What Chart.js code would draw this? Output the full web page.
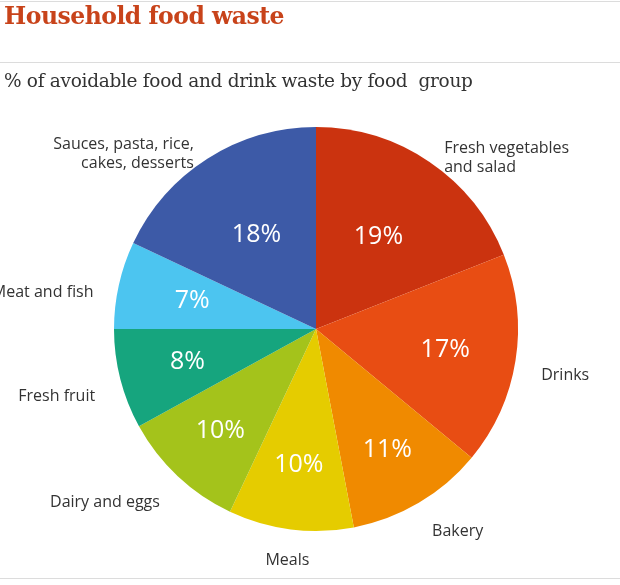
<!DOCTYPE html>
<html><head><meta charset="utf-8">
<script src="https://cdn.jsdelivr.net/npm/chart.js@4/dist/chart.umd.min.js"></script>
<style>
html,body{margin:0;padding:0;background:#fff;}
#wrap{position:relative;width:620px;height:585px;overflow:hidden;}
canvas{position:absolute;left:0;top:0;}
.rule{position:absolute;left:0;width:620px;height:1px;background:#dcdcdc;}
#title{position:absolute;left:4px;top:2px;font:bold 23.5px "DejaVu Serif",serif;color:#c8431a;letter-spacing:-0.5px;}
#sub{position:absolute;left:4px;top:70px;font:18.5px "DejaVu Serif",serif;color:#333;letter-spacing:-0.3px;}
</style></head><body>
<div id="wrap">
<canvas id="c" width="620" height="585"></canvas>
<div class="rule" style="top:1px"></div>
<div class="rule" style="top:62px"></div>
<div class="rule" style="top:578px"></div>
<div id="title">Household food waste</div>
<div id="sub">% of avoidable food and drink waste by food&nbsp; group</div>
</div>
<script>
const categories = [["Fresh vegetables","and salad"],["Drinks"],["Bakery"],["Meals"],["Dairy and eggs"],["Fresh fruit"],["Meat and fish"],["Sauces, pasta, rice,","cakes, desserts"]];
const values = [19,17,11,10,10,8,7,18];
const colors = ["#cb330f","#e84d13","#f08a00","#e5cc00","#a4c31b","#16a57e","#4cc5f0","#3d5aa7"];

const labelPlugin = {
  id:'labels',
  afterDatasetsDraw(chart){
    const ctx = chart.ctx;
    const meta = chart.getDatasetMeta(0);
    meta.data.forEach((arc,i)=>{
      const mid = (arc.startAngle+arc.endAngle)/2;
      const r = arc.outerRadius;
      const k = 0.55 + 0.12*Math.max(0,Math.sin(mid)) + 0.08*Math.abs(Math.cos(mid))*(Math.sin(mid)>-0.3?1:0);
      ctx.save();
      ctx.fillStyle="#fff";
      ctx.font='500 25px "Open Sans",sans-serif';
      ctx.textAlign='center';ctx.textBaseline='middle';
      ctx.fillText(values[i]+'%', arc.x+Math.cos(mid)*r*k, arc.y+Math.sin(mid)*r*k);
      const ro = r+26;
      const x = arc.x+Math.cos(mid)*ro, y = arc.y+Math.sin(mid)*ro*0.97+12;
      ctx.fillStyle="#333";
      ctx.font='16px "Open Sans",sans-serif';
      ctx.textAlign = x>arc.x+30?'left':(x<arc.x-30?'right':'center');
      const lines = categories[i];
      const lh=19;
      lines.forEach((t,j)=>ctx.fillText(t,x,y+(j-(lines.length-1)/2)*lh));
      ctx.restore();
    });
  }
};

new Chart(document.getElementById('c'),{
  type:'pie',
  data:{labels:categories.map(l=>l.join(' ')),datasets:[{data:values,backgroundColor:colors,borderWidth:0}]},
  options:{
    responsive:false,animation:false,
    layout:{padding:{top:127,bottom:54,left:114,right:102}},
    plugins:{legend:{display:false},tooltip:{enabled:false}}
  },
  plugins:[labelPlugin]
});
</script>
</body></html>
